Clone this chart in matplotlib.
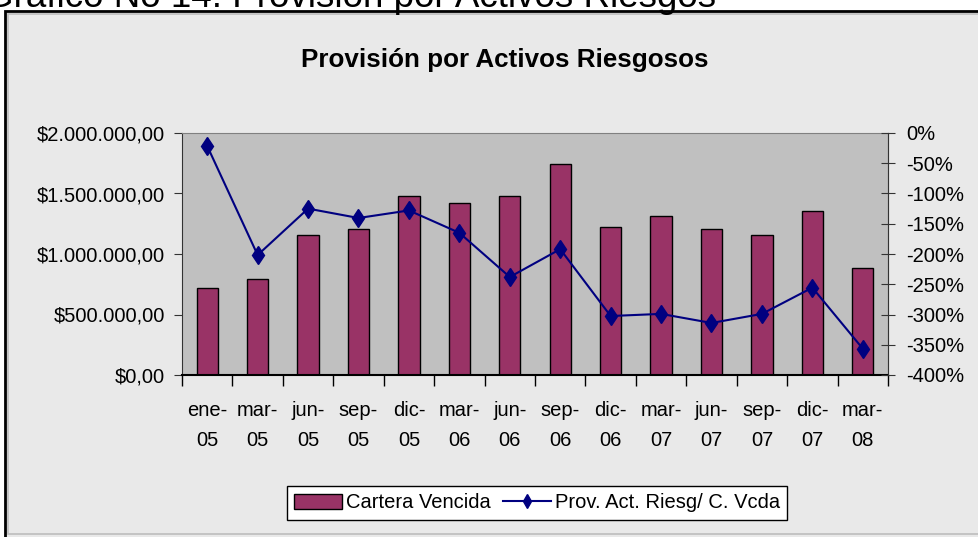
import matplotlib
matplotlib.use("Agg")
import matplotlib.pyplot as plt
from matplotlib.patches import Rectangle
from matplotlib.lines import Line2D
from matplotlib.ticker import FuncFormatter, FixedLocator

plt.rcParams['font.family'] = ['Liberation Sans', 'DejaVu Sans']

categories = ["ene-\n05", "mar-\n05", "jun-\n05", "sep-\n05", "dic-\n05", "mar-\n06", "jun-\n06",
              "sep-\n06", "dic-\n06", "mar-\n07", "jun-\n07", "sep-\n07", "dic-\n07", "mar-\n08"]
cartera_vencida = [716000, 793000, 1160000, 1206000, 1479000, 1419000, 1479000,
                   1741000, 1223000, 1314000, 1206000, 1160000, 1358000, 887000]
prov_ratio = [-21.5, -201.7, -125, -140.5, -128, -165, -238,
              -192, -302.5, -299, -314, -299, -255.6, -356.5]
left_ticks = [0, 500000, 1000000, 1500000, 2000000]
right_ticks = [0, -50, -100, -150, -200, -250, -300, -350, -400]

BAR = "#993366"
LINE = "#000080"
PLOT_BG = "#C0C0C0"
CHART_BG = "#E9E9E9"

fig = plt.figure(figsize=(9.79, 5.37), dpi=100)
fig.patch.set_facecolor("white")

# chart frame
W, H = 979, 537
frame = Rectangle((5 / W, -0.01), (979 - 5) / W + 0.02, (537 - 11) / H + 0.01, transform=fig.transFigure,
                  facecolor=CHART_BG, edgecolor="black", linewidth=2, zorder=-2)
fig.patches.append(frame)
inner = Rectangle((8 / W, 3 / H), (979 - 8) / W, (537 - 17) / H, transform=fig.transFigure,
                  facecolor="none", edgecolor="#BDBDBD", linewidth=1.2, zorder=-1)
fig.patches.append(inner)

# outer cut-off heading
fig.text(-15 / W, 1 - 7 / H, "Gráfico No 14: Provisión por Activos Riesgos", fontsize=26.5,
         ha="left", va="baseline", color="black")

ax_left, ax_right, ax_top, ax_bottom = 182, 888, 133, 375
ax = fig.add_axes([ax_left / W, 1 - ax_bottom / H, (ax_right - ax_left) / W, (ax_bottom - ax_top) / H])
ax.set_facecolor(PLOT_BG)

x = list(range(len(categories)))
ax.bar(x, cartera_vencida, width=0.42, color=BAR, edgecolor="black", linewidth=1.0, zorder=2)
ax.set_xlim(-0.5, len(categories) - 0.5)
ax.set_ylim(0, 2000000)
ax.yaxis.set_major_locator(FixedLocator(left_ticks))


def money(v, pos):
    s = f"{int(round(v)):,}".replace(",", ".")
    return f"${s},00"


ax.yaxis.set_major_formatter(FuncFormatter(money))
ax.set_xticks(x)
ax.set_xticklabels(categories, linespacing=1.7)
ax.set_xticks([i + 0.5 for i in range(-1, len(categories))], minor=True)
ax.tick_params(axis="x", which="major", length=0, pad=19, labelsize=14.5)
ax.tick_params(axis="x", which="minor", length=8, direction="out", width=1, color="black")
ax.tick_params(axis="y", which="major", length=6, direction="out", labelsize=14.5, pad=6, color="#333333")
for s in ["top", "right"]:
    ax.spines[s].set_color("#808080")
ax.spines["left"].set_color("#333333")
ax.spines["bottom"].set_color("black")
ax.spines["bottom"].set_linewidth(1.5)

ax2 = ax.twinx()
ax2.plot(x, prov_ratio, color=LINE, linewidth=1.5, marker="d", markersize=9.5,
         markerfacecolor=LINE, markeredgecolor=LINE, zorder=3)
ax2.set_ylim(-400, 0)
ax2.yaxis.set_major_locator(FixedLocator(right_ticks))
ax2.yaxis.set_major_formatter(FuncFormatter(lambda v, p: f"{int(round(v))}%"))
ax2.tick_params(axis="y", length=10, direction="inout", labelsize=14.5, pad=8, color="#333333")
ax2.spines["right"].set_color("#333333")
for s in ["top", "left", "bottom"]:
    ax2.spines[s].set_visible(False)

# title
fig.text(505 / W, 1 - 60 / H, "Provisión por Activos Riesgosos", fontsize=18.7, fontweight="bold",
         ha="center", va="center")

# legend
handles = [Rectangle((0, 0), 1, 1, facecolor=BAR, edgecolor="black", linewidth=1),
           Line2D([0], [0], color=LINE, linewidth=1.5, marker="d", markersize=7,
                  markerfacecolor=LINE, markeredgecolor=LINE)]
leg = fig.legend(handles, ["Cartera Vencida", "Prov. Act. Riesg/ C. Vcda"], ncol=2,
                 loc="center", bbox_to_anchor=(537 / W, 1 - 503 / H), fontsize=14.5,
                 frameon=True, fancybox=False, edgecolor="black", facecolor="white", framealpha=1,
                 handlelength=2.4, handletextpad=0.2, columnspacing=0.6, borderpad=0.35,
                 handleheight=0.7)
leg.get_frame().set_linewidth(1.0)

fig.savefig("out.png", dpi=100)
